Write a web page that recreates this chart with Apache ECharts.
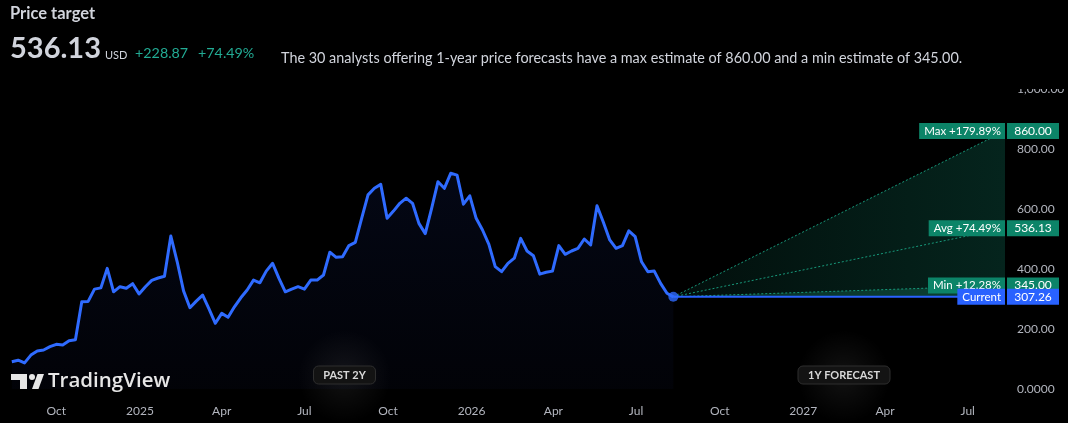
<!DOCTYPE html>
<html><head><meta charset="utf-8">
<script src="https://cdn.jsdelivr.net/npm/echarts@6/dist/echarts.min.js"></script>
<style>html,body{margin:0;padding:0;background:#000;}#c{width:1068px;height:423px;}</style>
</head><body><div id="c"></div>
<script>
// ---- data ----
const startDate = '2024-08-13';      // first weekly close
const axisStart = '2024-07-31';
const forecastEnd = '2027-08-11';
const analystCount = 30;
const prices = [
  91, 96, 87, 113, 127, 130, 141, 149, 147, 161, 164, 291, 292, 333, 337, 402, 324, 341, 336, 351, 317, 341, 362, 370, 376, 510, 424, 327, 271, 293, 313, 267, 219, 252, 239,
  274, 304, 330, 363, 354, 393, 419, 369, 324, 333, 341, 333, 363, 363, 380, 456, 439, 441, 478, 489, 569, 647, 669, 682, 569, 593, 619, 636, 619, 552, 518, 602, 691, 669, 719,
  713, 616, 644, 569, 530, 482, 408, 391, 419, 436, 502, 460, 444, 383, 389, 393, 478, 449, 460, 469, 500, 480, 611, 556, 497, 469, 478, 527, 508, 424, 391, 393, 352, 319, 307.26
];
const currentPrice = 307.26;
const targetMax = 860.00;
const targetAvg = 536.13;
const targetMin = 345.00;
const xTickDates = ['2024-10-01','2025-01-01','2025-04-01','2025-07-01','2025-10-01','2026-01-01','2026-04-01','2026-07-01','2026-10-01','2027-01-01','2027-04-01','2027-07-01'];
const xTickLabels = ['Oct','2025','Apr','Jul','Oct','2026','Apr','Jul','Oct','2027','Apr','Jul'];
const yTicks = [0, 200, 400, 600, 800, 1000];

// ---- build ----
const DAY = 86400000;
const t0 = Date.parse(startDate);
const hist = prices.map((v, i) => [t0 + i * 7 * DAY, v]);
const curT = hist[hist.length - 1][0];
const endT = Date.parse(forecastEnd);
const tickTs = xTickDates.map(d => Date.parse(d));
const FONT = 'Lato, "Noto Sans", sans-serif';
const TEAL = '#0c8468';
const BLUE = '#2f6bff';
const fmtNum = v => v.toLocaleString('en-US', {minimumFractionDigits: 2, maximumFractionDigits: 2});
const pct = v => '+' + ((v / currentPrice - 1) * 100).toFixed(2) + '%';

const chart = echarts.init(document.getElementById('c'), null, {renderer: 'canvas'});

const option = {
  backgroundColor: '#000',
  animation: false,
  textStyle: {fontFamily: FONT},
  grid: {left: 0, right: 63, top: 89, bottom: 34},
  xAxis: {
    type: 'value', min: Date.parse(axisStart), max: endT,
    axisLine: {show: false}, axisTick: {show: false}, splitLine: {show: false},
    axisLabel: {
      customValues: tickTs, color: '#b2b5be', fontSize: 12, margin: 16, fontFamily: FONT,
      showMinLabel: true, showMaxLabel: true,
      formatter: v => { const i = tickTs.indexOf(v); return i >= 0 ? xTickLabels[i] : ''; }
    }
  },
  yAxis: {
    type: 'value', position: 'right', min: yTicks[0], max: yTicks[yTicks.length - 1], interval: 200,
    axisLine: {show: false}, axisTick: {show: false}, splitLine: {show: false},
    axisLabel: {color: '#b2b5be', fontSize: 12, margin: 12, fontFamily: FONT,
      formatter: v => v === 0 ? '0.0000' : fmtNum(v)}
  },
  series: [
    {
      type: 'custom', silent: true, z: 1,
      data: [[curT, currentPrice]],
      renderItem: (params, api) => {
        const c = api.coord([curT, currentPrice]);
        const mx = api.coord([endT, targetMax]);
        const mn = api.coord([endT, targetMin]);
        const cr = api.coord([endT, currentPrice]);
        return {type: 'group', children: [
          {type: 'polygon', shape: {points: [c, mx, cr]},
           style: {fill: new echarts.graphic.LinearGradient(0, 0, 1, 0, [
             {offset: 0, color: 'rgba(16,120,96,0.12)'}, {offset: 1, color: 'rgba(16,120,96,0.30)'}])}},
          {type: 'polygon', shape: {points: [c, mn, cr]},
           style: {fill: 'rgba(30,150,120,0.25)'}}
        ]};
      }
    },
    {
      type: 'line', data: hist, symbol: 'none', z: 3,
      lineStyle: {color: BLUE, width: 3, join: 'round'},
      areaStyle: {color: new echarts.graphic.LinearGradient(0, 0, 0, 1, [
        {offset: 0, color: 'rgba(30,60,170,0.18)'}, {offset: 1, color: 'rgba(20,30,90,0.12)'}])}
    },
    {type: 'line', data: [[curT, currentPrice], [endT, targetMax]], symbol: 'none', z: 2,
     lineStyle: {color: '#17987a', width: 1, type: [2, 2]}},
    {type: 'line', data: [[curT, currentPrice], [endT, targetAvg]], symbol: 'none', z: 2,
     lineStyle: {color: '#17987a', width: 1, type: [2, 2]}},
    {type: 'line', data: [[curT, currentPrice], [endT, targetMin]], symbol: 'none', z: 2,
     lineStyle: {color: '#17987a', width: 1, type: [2, 2]}},
    {type: 'line', data: [[curT, currentPrice], [endT, currentPrice]], symbol: 'none', z: 2,
     lineStyle: {color: '#2962ff', width: 2}},
    {type: 'scatter', data: [[curT, currentPrice]], symbolSize: 10, z: 4,
     itemStyle: {color: BLUE}}
  ]
};
chart.setOption(option);

// ---- overlays positioned through the axes ----
const endX = chart.convertToPixel({xAxisIndex: 0}, endT);
const yPix = v => chart.convertToPixel({yAxisIndex: 0}, v);
const g = [];
// clip top of the 1,000.00 label
g.push({type: 'rect', shape: {x: endX + 2, y: 60, width: 70, height: yPix(1000) - 60}, style: {fill: '#000'}, z: 100, zlevel: 1});

function pills(label, value, color) {
  const y = yPix(value === null ? currentPrice : value);
  g.push({type: 'text', x: endX, y: y, z: 101, zlevel: 1,
    style: {text: label, fill: '#fff', font: '11.5px ' + FONT, align: 'right', verticalAlign: 'middle',
      backgroundColor: color, padding: [2, 4, 2, 5]}});
  g.push({type: 'rect', shape: {x: endX + 2, y: y - 8, width: 52, height: 16}, style: {fill: color}, z: 100, zlevel: 1});
  g.push({type: 'text', x: endX + 28, y: y, z: 101, zlevel: 1,
    style: {text: fmtNum(value === null ? currentPrice : value), fill: '#fff', font: '12px ' + FONT, align: 'center', verticalAlign: 'middle'}});
}
pills('Max ' + pct(targetMax), targetMax, TEAL);
pills('Avg ' + pct(targetAvg), targetAvg, TEAL);
pills('Min ' + pct(targetMin), targetMin, TEAL);
pills('Current', null, '#2962ff');

// section pills with glow
function sectionPill(cx, text, w) {
  g.push({type: 'rect', shape: {x: cx - 110, y: 330, width: 220, height: 93},
    style: {fill: new echarts.graphic.RadialGradient(0.5, 0.5, 0.5, [
      {offset: 0, color: 'rgba(255,255,255,0.07)'}, {offset: 1, color: 'rgba(255,255,255,0)'}])}, z: 90});
  g.push({type: 'rect', shape: {x: cx - w / 2, y: 366, width: w, height: 18, r: 5},
    style: {fill: '#131313', stroke: '#2e2e2e', lineWidth: 1}, z: 91});
  g.push({type: 'text', x: cx, y: 375, z: 92,
    style: {text: text, fill: '#d8d8d8', font: 'bold 11px ' + FONT, align: 'center', verticalAlign: 'middle'}});
}
sectionPill(344.5, 'PAST 2Y', 62);
sectionPill(844, '1Y FORECAST', 92);

// TradingView logo
g.push({type: 'rect', shape: {x: 11, y: 374, width: 16, height: 6}, style: {fill: '#e6e6e6'}, z: 95});
g.push({type: 'rect', shape: {x: 20, y: 374, width: 7, height: 15}, style: {fill: '#e6e6e6'}, z: 95});
g.push({type: 'circle', shape: {cx: 32, cy: 377, r: 3}, style: {fill: '#e6e6e6'}, z: 95});
g.push({type: 'polygon', shape: {points: [[32, 389], [37.5, 374], [44, 374], [38.5, 389]]}, style: {fill: '#e6e6e6'}, z: 95});
g.push({type: 'text', x: 48, y: 381, z: 95,
  style: {text: 'TradingView', fill: '#e6e6e6', font: '600 20.5px "Open Sans", ' + FONT, verticalAlign: 'middle'}});

// header
g.push({type: 'text', x: 10, y: 14, style: {text: 'Price target', fill: '#d1d4dc', font: 'bold 16.5px ' + FONT, verticalAlign: 'middle'}});
g.push({type: 'text', x: 10, y: 48.5, style: {text: targetAvg.toFixed(2), fill: '#d1d4dc', font: 'bold 29px ' + FONT, verticalAlign: 'middle'}});
g.push({type: 'text', x: 105, y: 55, style: {text: 'USD', fill: '#d1d4dc', font: '11px ' + FONT, verticalAlign: 'middle'}});
const diff = targetAvg - currentPrice;
g.push({type: 'text', x: 135, y: 53, style: {text: '+' + diff.toFixed(2), fill: '#22ab94', font: '14.3px ' + FONT, verticalAlign: 'middle'}});
g.push({type: 'text', x: 198, y: 53, style: {text: pct(targetAvg), fill: '#22ab94', font: '14.3px ' + FONT, verticalAlign: 'middle'}});
g.push({type: 'text', x: 281, y: 58, style: {
  text: 'The ' + analystCount + ' analysts offering 1-year price forecasts have a max estimate of ' + targetMax.toFixed(2) + ' and a min estimate of ' + targetMin.toFixed(2) + '.',
  fill: '#d1d4dc', font: '14.4px ' + FONT, verticalAlign: 'middle'}});

chart.setOption({graphic: {elements: g}});
</script>
</body></html>
